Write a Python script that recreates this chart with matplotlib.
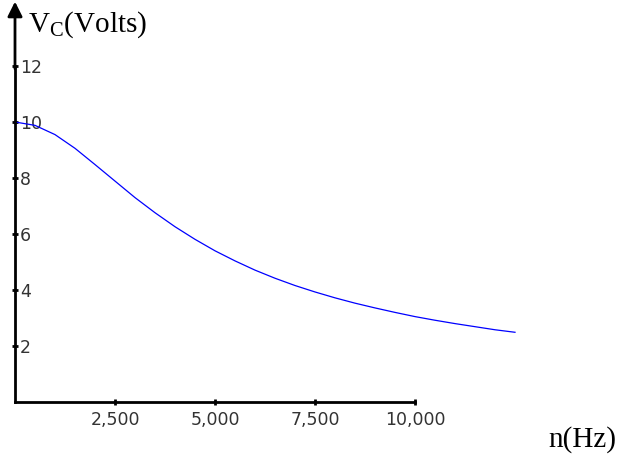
import matplotlib
matplotlib.use('Agg')
from matplotlib import pyplot as plt

# 读取的数据点 (Hz, Volts)
freq = [0, 500, 1000, 1500, 2000, 2500, 3000, 3500, 4000, 4500, 5000, 5500, 6000,
        6500, 7000, 7500, 8000, 8500, 9000, 9500, 10000, 10500, 11000, 11500, 12000, 12500]
volts = [10.0, 9.88, 9.55, 9.06, 8.48, 7.89, 7.30, 6.76, 6.26, 5.81, 5.40, 5.04, 4.71,
         4.42, 4.16, 3.93, 3.72, 3.53, 3.36, 3.20, 3.05, 2.92, 2.80, 2.69, 2.58, 2.49]
x_ticks = [2500, 5000, 7500, 10000]
x_labels = ['2,500', '5,000', '7,500', '10,000']
y_ticks = [2, 4, 6, 8, 10, 12]
y_labels = ['2', '4', '6', '8', '10', '12']

W, H = 619, 457
fig = plt.figure(figsize=(W / 100, H / 100), dpi=100)
ax = fig.add_axes([0, 0, 1, 1])
ax.set_xlim(-375, 15100)
ax.set_ylim(-55 / 28, 402 / 28)

ax.plot(freq, volts, color='#0000ff', lw=0.9)

# 坐标轴
for s in ['left', 'top']:
    ax.spines[s].set_visible(False)
ax.spines['right'].set_position(('data', 0))
ax.spines['right'].set_bounds(0, 12)
ax.spines['right'].set_linewidth(2)
ax.spines['bottom'].set_position(('data', 0))
ax.spines['bottom'].set_bounds(0, 10000)
ax.spines['bottom'].set_linewidth(2)
ax.annotate('', xy=(0, 14.3), xytext=(0, 11.9),
            arrowprops=dict(arrowstyle='-|>', lw=2, color='k', mutation_scale=22,
                            shrinkA=0, shrinkB=0))

ax.yaxis.tick_right()
ax.set_yticks(y_ticks)
ax.set_yticklabels(y_labels)
ax.set_xticks(x_ticks)
ax.set_xticklabels(x_labels)
ax.tick_params(direction='inout', length=5, width=2, labelsize=12.5,
               labelcolor='#333333', pad=1)
ax.tick_params(axis='x', pad=4)

plt.rcParams['mathtext.fontset'] = 'custom'
plt.rcParams['mathtext.rm'] = 'Liberation Serif'
fig.text(28 / W, 1 - 32 / H, r'V$_{\mathrm{C}}$(Volts)', family='Liberation Serif',
         fontsize=21, ha='left', va='baseline')
fig.text(548 / W, 1 - 447 / H, 'n(Hz)', family='Liberation Serif',
         fontsize=21, ha='left', va='baseline')

plt.savefig('out.png', dpi=100)
